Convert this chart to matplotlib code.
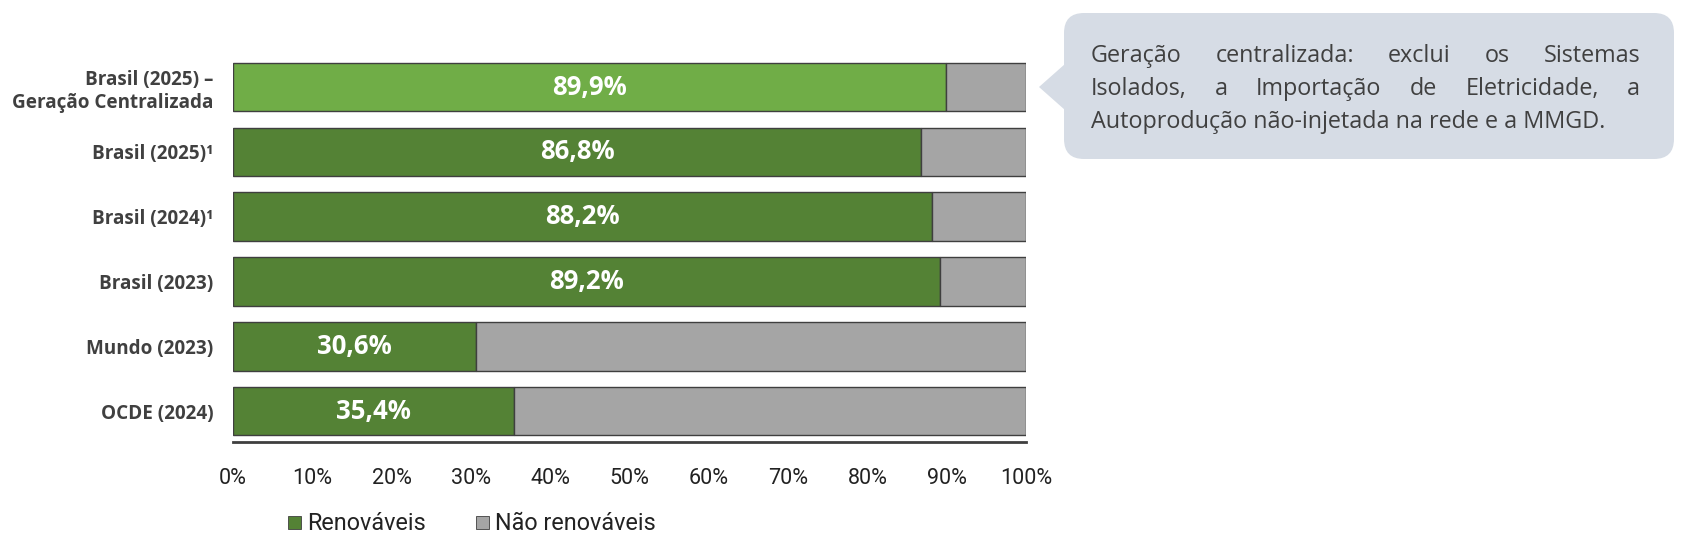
import matplotlib
matplotlib.use("Agg")
import matplotlib.pyplot as plt
from matplotlib.patches import FancyBboxPatch, Polygon, Rectangle

categories = ["Brasil (2025) –\nGeração Centralizada", "Brasil (2025)¹", "Brasil (2024)¹",
              "Brasil (2023)", "Mundo (2023)", "OCDE (2024)"]
renovaveis = [89.9, 86.8, 88.2, 89.2, 30.6, 35.4]
nao_renovaveis = [100 - v for v in renovaveis]
value_labels = ["89,9%", "86,8%", "88,2%", "89,2%", "30,6%", "35,4%"]
xticks = [0, 10, 20, 30, 40, 50, 60, 70, 80, 90, 100]
xtick_labels = [f"{t}%" for t in xticks]
legend_labels = ["Renováveis", "Não renováveis"]
callout_lines = ["Geração centralizada: exclui os Sistemas",
                 "Isolados, a Importação de Eletricidade, a",
                 "Autoprodução não-injetada na rede e a MMGD."]

DARK_GREEN = "#548235"
LIGHT_GREEN = "#70AD47"
GRAY = "#A5A5A5"
EDGE = "#3F3F3F"
TEXT = "#404040"

plt.rcParams['font.family'] = ["Roboto", "DejaVu Sans"]
OPEN = ["Open Sans", "DejaVu Sans"]

W, H = 1694, 550
fig = plt.figure(figsize=(W / 100, H / 100), dpi=100)
ax = fig.add_axes([233 / W, 1 - 442 / H, (1026 - 233) / W, (442 - 54.6) / H])

ypos = list(range(len(categories)))
colors_r = [LIGHT_GREEN] + [DARK_GREEN] * (len(categories) - 1)
ax.barh(ypos, renovaveis, height=0.75, color=colors_r, edgecolor=EDGE, linewidth=1.0)
ax.barh(ypos, nao_renovaveis, left=renovaveis, height=0.75, color=GRAY, edgecolor=EDGE, linewidth=1.0)

for y, v, lab in zip(ypos, renovaveis, value_labels):
    ax.text(v / 2, y, lab, ha="center", va="center", color="white",
            fontsize=18.5, fontweight="bold", family=OPEN)

ax.set_xlim(0, 100)
ax.set_ylim(len(categories) - 1 + 0.478, -0.5)
ax.set_yticks(ypos)
ax.set_yticklabels(categories)
for t in ax.get_yticklabels():
    t.set_fontfamily(OPEN)
    t.set_fontweight("bold")
    t.set_fontsize(13.6)
    t.set_color(TEXT)
    t.set_linespacing(1.2)
ax.set_xticks(xticks)
ax.set_xticklabels(xtick_labels, fontsize=15.5, color="#222222")
ax.tick_params(axis="both", length=0)
ax.tick_params(axis="x", pad=19)
ax.tick_params(axis="y", pad=14)
for s in ["top", "right", "left"]:
    ax.spines[s].set_visible(False)
ax.spines["bottom"].set_color(EDGE)
ax.spines["bottom"].set_linewidth(2)

# overlay in pixel coords
ov = fig.add_axes([0, 0, 1, 1], zorder=5)
ov.set_xlim(0, W)
ov.set_ylim(H, 0)
ov.axis("off")

# legend
ov.add_patch(Rectangle((288, 516), 13, 13, facecolor=DARK_GREEN, edgecolor=EDGE, linewidth=0.6))
ov.text(307, 523, legend_labels[0], va="center", ha="left", fontsize=16.8, color="#222222")
ov.add_patch(Rectangle((476, 516), 13, 13, facecolor=GRAY, edgecolor=EDGE, linewidth=0.6))
ov.text(495, 523, legend_labels[1], va="center", ha="left", fontsize=16.8, color="#222222")

# callout
CALL = "#D6DCE5"
ov.add_patch(FancyBboxPatch((1064, 13), 1674 - 1064, 159 - 13,
                            boxstyle="round,pad=0,rounding_size=20",
                            facecolor=CALL, edgecolor="none"))
ov.add_patch(Polygon([(1065, 64), (1039, 87), (1065, 110)], closed=True,
                     facecolor=CALL, edgecolor="none"))

x0, x1 = 1091, 1640
line_y = [56, 89, 122]
cfont = dict(fontsize=16.8, color=TEXT, va="center", ha="left", family=OPEN)
word_texts = []
for i, (line, yy) in enumerate(zip(callout_lines, line_y)):
    if i == len(callout_lines) - 1:
        ov.text(x0, yy, line, **cfont)
        continue
    word_texts.append([ov.text(x0, yy, w, **cfont) for w in line.split(" ")])

fig.canvas.draw()
renderer = fig.canvas.get_renderer()
for texts in word_texts:
    widths = [t.get_window_extent(renderer).width for t in texts]
    gap = (x1 - x0 - sum(widths)) / (len(texts) - 1)
    x = x0
    for t, wdt in zip(texts, widths):
        t.set_x(x)
        x += wdt + gap

fig.savefig("out.png", dpi=100)
